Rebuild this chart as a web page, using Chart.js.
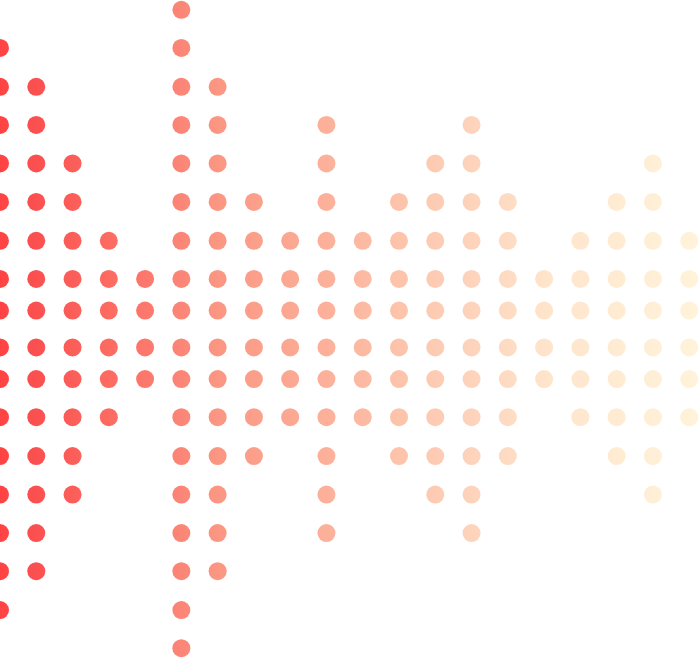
<!DOCTYPE html>
<html>
<head>
<meta charset="utf-8">
<script src="https://cdn.jsdelivr.net/npm/chart.js@4/dist/chart.umd.min.js"></script>
<style>
  html, body { margin: 0; padding: 0; background: #fff; }
  #wrap { width: 699px; height: 658px; position: relative; }
</style>
</head>
<body>
<div id="wrap"><canvas id="dotChart"></canvas></div>
<script>
// number of dots in each column (split evenly above / below the centre line)
const columnCounts = [16, 14, 10, 6, 4, 18, 14, 8, 6, 12, 6, 8, 10, 12, 8, 4, 6, 8, 10, 6];
// distance of each dot row from the centre line
const rowLevels = [0.48, 1.3, 2.29, 3.3, 4.3, 5.3, 6.29, 7.3, 8.29];

// colour ramp, left to right
const rampStops = [
    [0.00, '#ff4343'],
    [0.05, '#fb5050'],
    [0.10, '#fb5d58'],
    [0.156, '#fd6b61'],
    [0.21, '#fc786d'],
    [0.26, '#fb8677'],
    [0.31, '#fb9682'],
    [0.466, '#fcb09a'],
    [0.57, '#fdc3ab'],
    [0.674, '#fdd3bb'],
    [0.78, '#fee4cb'],
    [0.88, '#feebd2'],
    [1.00, '#fff3da']
];

document.addEventListener('DOMContentLoaded', function () {
    const points = [];
    columnCounts.forEach((count, col) => {
        const half = count / 2;
        for (let i = 0; i < half; i++) {
            points.push({ x: col, y: rowLevels[i] });
            points.push({ x: col, y: -rowLevels[i] });
        }
    });

    const canvas = document.getElementById('dotChart');
    new Chart(canvas, {
        type: 'scatter',
        data: {
            datasets: [{
                data: points,
                pointRadius: 9,
                pointHoverRadius: 9,
                borderWidth: 0,
                clip: false,
                backgroundColor: function (ctx) {
                    const chart = ctx.chart;
                    const area = chart.chartArea;
                    if (!area) return '#ff4343';
                    const g = chart.ctx.createLinearGradient(0, 0, chart.width, 0);
                    rampStops.forEach(s => g.addColorStop(s[0], s[1]));
                    return g;
                }
            }]
        },
        options: {
            responsive: true,
            maintainAspectRatio: false,
            animation: false,
            layout: { padding: 0, autoPadding: false },
            plugins: {
                legend: { display: false },
                tooltip: { enabled: false }
            },
            scales: {
                x: { type: 'linear', min: 0, max: 19.27, display: false },
                y: { type: 'linear', min: -8.545, max: 8.545, display: false }
            }
        }
    });
});
</script>
</body>
</html>
